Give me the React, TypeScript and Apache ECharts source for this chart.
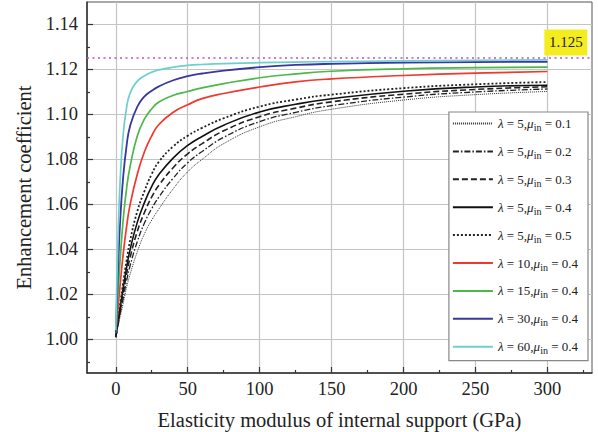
import React, { useEffect, useRef } from "react";
import * as echarts from "echarts";

const E = [0, 1, 2, 3, 5, 7.5, 10, 15, 20, 25, 30, 40, 50, 60, 75, 100, 125, 150, 200, 250, 300];

const lambdas = [5, 5, 5, 5, 5, 10, 15, 30, 60];
const mus = ["0.1", "0.2", "0.3", "0.4", "0.5", "0.4", "0.4", "0.4", "0.4"];

const v_l5_m01 = [1.001, 1.004, 1.007, 1.010, 1.0155, 1.023, 1.029, 1.039, 1.047, 1.053, 1.058, 1.067, 1.0745, 1.080, 1.087, 1.0945, 1.099, 1.1023, 1.1064, 1.1088, 1.1102];
const v_l5_m02 = [1.001, 1.0045, 1.008, 1.0114, 1.0178, 1.026, 1.0328, 1.0435, 1.0518, 1.0581, 1.0633, 1.0717, 1.0785, 1.0835, 1.0898, 1.0968, 1.1009, 1.1039, 1.1077, 1.110, 1.1113];
const v_l5_m03 = [1.001, 1.005, 1.009, 1.0128, 1.020, 1.029, 1.0365, 1.048, 1.0565, 1.0633, 1.0685, 1.0764, 1.0825, 1.087, 1.0927, 1.099, 1.1028, 1.1056, 1.109, 1.1111, 1.1123];
const v_l5_m04 = [1.001, 1.0055, 1.0099, 1.014, 1.0221, 1.0318, 1.040, 1.0521, 1.0609, 1.068, 1.0733, 1.0807, 1.0862, 1.0902, 1.0952, 1.1011, 1.1045, 1.107, 1.1103, 1.1122, 1.113];
const v_l5_m05 = [1.001, 1.006, 1.011, 1.0155, 1.0245, 1.035, 1.044, 1.057, 1.066, 1.0735, 1.079, 1.0858, 1.0905, 1.094, 1.0983, 1.1035, 1.1066, 1.1088, 1.1117, 1.1134, 1.1144];
const v_l10 = [1.003, 1.010, 1.017, 1.024, 1.037, 1.050, 1.060, 1.0735, 1.0835, 1.0905, 1.0955, 1.101, 1.1043, 1.107, 1.1093, 1.1122, 1.1145, 1.1158, 1.1173, 1.1184, 1.1191];
const v_l15 = [1.003, 1.014, 1.025, 1.035, 1.052, 1.067, 1.077, 1.0905, 1.098, 1.1025, 1.1055, 1.1085, 1.1102, 1.1118, 1.1137, 1.1163, 1.118, 1.1192, 1.1203, 1.1208, 1.121];
const v_l30 = [1.003, 1.021, 1.038, 1.052, 1.071, 1.086, 1.095, 1.1035, 1.108, 1.1105, 1.1125, 1.1152, 1.117, 1.1182, 1.1195, 1.121, 1.122, 1.1225, 1.123, 1.1233, 1.1234];
const v_l60 = [1.004, 1.032, 1.054, 1.07, 1.09, 1.103, 1.1095, 1.1148, 1.1172, 1.1188, 1.1198, 1.121, 1.1218, 1.1222, 1.1226, 1.123, 1.1233, 1.1235, 1.1238, 1.1241, 1.1243];

const seriesValues = [v_l5_m01, v_l5_m02, v_l5_m03, v_l5_m04, v_l5_m05, v_l10, v_l15, v_l30, v_l60];

const xTicks = [0, 50, 100, 150, 200, 250, 300];
const xMinorTicks = [25, 75, 125, 175, 225, 275, 325];
const yTicks = [1.0, 1.02, 1.04, 1.06, 1.08, 1.1, 1.12, 1.14];
const yMinorTicks = [0.99, 1.01, 1.03, 1.05, 1.07, 1.09, 1.11, 1.13];

const refValue = 1.125;
const refLabel = "1.125";

const FONT = "Liberation Serif";

const styles: any[] = [
  { color: "#333", width: 1, type: [1, 1] },
  { color: "#222", width: 1.3, type: [6, 2, 1.5, 2] },
  { color: "#222", width: 1.6, type: [6, 3] },
  { color: "#111", width: 1.6, type: "solid" },
  { color: "#222", width: 1.8, type: [2, 2] },
  { color: "#f0382c", width: 1.7, type: "solid" },
  { color: "#4cb848", width: 1.7, type: "solid" },
  { color: "#38379c", width: 1.8, type: "solid" },
  { color: "#6ccfd0", width: 1.7, type: "solid" },
];

const names = lambdas.map((l, i) => `λ = ${l}, μin = ${mus[i]}`);

export default function App() {
  const ref = useRef<HTMLDivElement>(null);
  useEffect(() => {
    if (!ref.current) return;
    const chart = echarts.init(ref.current, null, { renderer: "svg" });
    const series: any[] = seriesValues.map((vals, i) => ({
      name: names[i],
      type: "line",
      xAxisIndex: 0,
      yAxisIndex: 0,
      data: E.map((e, j) => [e, vals[j]]),
      symbol: "none",
      smooth: 0.5,
      lineStyle: styles[i],
      itemStyle: { color: styles[i].color },
      z: 3,
    }));
    series[0].markLine = {
      silent: true,
      symbol: "none",
      precision: 4,
      label: { show: false },
      lineStyle: { type: [2, 3.5], color: "#c04ec0", width: 1.6 },
      data: [{ yAxis: refValue }],
    };
    series[0].markPoint = {
      silent: true,
      symbol: "rect",
      symbolSize: [43, 26],
      itemStyle: { color: "#f5ec1f" },
      label: {
        show: true,
        formatter: refLabel,
        color: "#222",
        fontFamily: FONT,
        fontSize: 15,
      },
      data: [{ coord: [312.8, 1.132] }],
    };
    const option: any = {
      animation: false,
      backgroundColor: "#fff",
      grid: {
        left: 87,
        right: 6,
        top: 2,
        bottom: 59,
        show: true,
        borderColor: "#555",
        borderWidth: 1,
        containLabel: false,
        outerBoundsMode: "none",
      },
      legend: {
        orient: "vertical",
        right: 10,
        top: 112,
        itemWidth: 40,
        itemHeight: 10,
        itemGap: 12.4,
        padding: [5, 10, 5, 3],
        backgroundColor: "#fff",
        borderColor: "#888",
        borderWidth: 1.2,
        itemStyle: { opacity: 0 },
        data: names,
        formatter: (name: string) => {
          const i = names.indexOf(name);
          return `{g|λ}{n| = ${lambdas[i]},}{g|μ}{s|in}{n| = ${mus[i]}}`;
        },
        textStyle: {
          fontFamily: FONT,
          fontSize: 13,
          color: "#222",
          rich: {
            g: { fontFamily: FONT, fontStyle: "italic", fontSize: 13, color: "#222", lineHeight: 18 },
            n: { fontFamily: FONT, fontSize: 13, color: "#222", lineHeight: 18 },
            s: { fontFamily: FONT, fontSize: 10, color: "#222", lineHeight: 9, verticalAlign: "bottom" },
          },
        },
      },
      xAxis: [
        {
          type: "value",
          min: -20,
          max: 331,
          name: "Elasticity modulus of internal support (GPa)",
          nameLocation: "middle",
          nameGap: 36,
          nameTextStyle: { fontFamily: FONT, fontSize: 20.5, color: "#222" },
          axisLine: { show: true, onZero: false, lineStyle: { color: "#333", width: 1.5 } },
          axisTick: { show: true, inside: true, length: 6, customValues: xTicks, lineStyle: { color: "#333", width: 1.2 } },
          axisLabel: { show: true, customValues: xTicks, margin: 6, fontFamily: FONT, fontSize: 18.5, color: "#222" },
          splitLine: { show: true, lineStyle: { color: "#c4c4c4", width: 1.2 } },
        },
        {
          type: "value",
          min: -20,
          max: 331,
          position: "bottom",
          axisLine: { show: false },
          axisTick: { show: true, inside: true, length: 3, customValues: xMinorTicks, lineStyle: { color: "#333", width: 1.2 } },
          axisLabel: { show: false },
          splitLine: { show: false },
        },
      ],
      yAxis: [
        {
          type: "value",
          min: 0.985,
          max: 1.15,
          name: "Enhancement coefficient",
          nameLocation: "middle",
          nameGap: 52,
          nameTextStyle: { fontFamily: FONT, fontSize: 20.5, color: "#222" },
          axisLine: { show: true, onZero: false, lineStyle: { color: "#333", width: 1.5 } },
          axisTick: { show: true, inside: true, length: 6, customValues: yTicks, lineStyle: { color: "#333", width: 1.2 } },
          axisLabel: {
            show: true,
            customValues: yTicks,
            margin: 9,
            fontFamily: FONT,
            fontSize: 18.5,
            color: "#222",
            formatter: (v: number) => v.toFixed(2),
          },
          splitLine: { show: true, lineStyle: { color: "#c4c4c4", width: 1.2 } },
        },
        {
          type: "value",
          min: 0.985,
          max: 1.15,
          position: "left",
          axisLine: { show: false, onZero: false },
          axisTick: { show: true, inside: true, length: 3, customValues: yMinorTicks, lineStyle: { color: "#333", width: 1.2 } },
          axisLabel: { show: false },
          splitLine: { show: false },
        },
      ],
      series,
    };
    chart.setOption(option);
    return () => chart.dispose();
  }, []);
  return (
    <div
      ref={ref}
      style={{ position: "fixed", left: 0, top: 0, width: 598, height: 432, background: "#fff" }}
    />
  );
}
